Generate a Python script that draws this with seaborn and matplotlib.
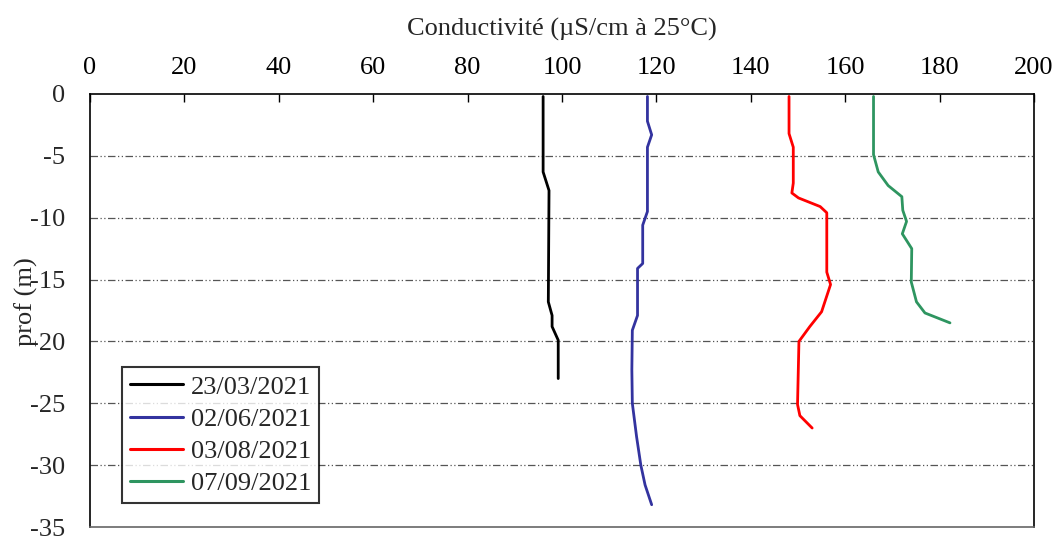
import numpy as np
import pandas as pd
import matplotlib
matplotlib.use("Agg")
import matplotlib.pyplot as plt
import seaborn as sns

# ---- data ----
labels = ["23/03/2021", "02/06/2021", "03/08/2021", "07/09/2021"]
colors = ["#000000", "#33339f", "#ff0000", "#2e9560"]

cond_0323 = [96.0, 96.0, 97.25, 97.1, 97.9, 97.9, 99.2, 99.2]
prof_0323 = [-0.2, -6.3, -7.8, -16.8, -17.9, -18.8, -19.9, -23.0]

cond_0206 = [118.1, 118.1, 119.0, 118.1, 118.1, 117.1, 117.1, 116.0, 116.0, 114.9,
             114.8, 114.9, 115.8, 116.7, 117.6, 119.0]
prof_0206 = [-0.2, -2.2, -3.3, -4.3, -9.5, -10.6, -13.7, -14.1, -17.9, -19.1,
             -22.3, -25.0, -27.7, -30.0, -31.6, -33.2]

cond_0308 = [148.1, 148.1, 149.0, 149.0, 148.7, 150.1, 154.7, 156.1, 156.1, 156.9,
             155.0, 152.5, 150.2, 149.9, 150.4, 153.0]
prof_0308 = [-0.2, -3.2, -4.3, -7.2, -8.0, -8.4, -9.1, -9.6, -14.4, -15.4,
             -17.6, -18.8, -20.0, -25.1, -26.0, -27.0]

cond_0709 = [166.0, 166.0, 167.0, 169.1, 172.0, 172.2, 173.0, 172.1, 174.1, 174.0,
             175.1, 176.9, 182.2]
prof_0709 = [-0.2, -4.9, -6.3, -7.4, -8.3, -9.4, -10.3, -11.3, -12.5, -15.2,
             -16.8, -17.7, -18.5]

x_ticks = [0, 20, 40, 60, 80, 100, 120, 140, 160, 180, 200]
y_ticks = [0, -5, -10, -15, -20, -25, -30, -35]

series = [(cond_0323, prof_0323), (cond_0206, prof_0206),
          (cond_0308, prof_0308), (cond_0709, prof_0709)]

sns.set_style("white")
plt.rcParams["font.family"] = ["Liberation Serif", "DejaVu Serif"]

fig = plt.figure(figsize=(10.56, 5.36), dpi=100)
ax = fig.add_axes([90 / 1056, 1 - 527 / 536, 944 / 1056, 433 / 536])

for (c, p), lab, col in zip(series, labels, colors):
    df = pd.DataFrame({"cond": c, "prof": p})
    sns.lineplot(data=df, x="cond", y="prof", sort=False, estimator=None,
                 color=col, linewidth=2.0, label=lab, ax=ax)

ax.set_xlim(0, 200)
ax.set_ylim(-35, 0)
ax.set_xticks(x_ticks)
ax.set_yticks(y_ticks)
ax.set_yticklabels([str(v) for v in y_ticks])

ax.xaxis.tick_top()
ax.xaxis.set_label_position("top")
ax.tick_params(axis="x", direction="in", length=6, width=1, labelsize=19,
               pad=11, colors="black")
ax.tick_params(axis="y", direction="out", length=8, width=1, labelsize=19,
               pad=10)

for yv in y_ticks[1:-1]:
    ax.axhline(yv, color="#555555", linewidth=0.9,
               linestyle=(0, (6, 2, 1, 2, 1, 2)), zorder=0)

for s in ["top", "left", "right"]:
    ax.spines[s].set_color("black")
    ax.spines[s].set_linewidth(1.2)
ax.spines["bottom"].set_color("#666666")
ax.spines["bottom"].set_linewidth(1.2)

ax.set_xlabel("Conductivité (µS/cm à 25°C)", fontsize=19, labelpad=15)
ax.set_ylabel("prof (m)", fontsize=19)
ax.yaxis.set_label_coords(-0.055, 0.52)

leg = ax.legend(loc="lower left", bbox_to_anchor=(0.034, 0.055),
                borderaxespad=0, fontsize=19, frameon=True, fancybox=False,
                handlelength=2.0, labelspacing=0.33, borderpad=0.3,
                handletextpad=0.3)
leg.get_frame().set_edgecolor("black")
leg.get_frame().set_linewidth(1.5)
for line in leg.get_lines():
    line.set_linewidth(2.2)

fig.savefig("out.png", dpi=100)
